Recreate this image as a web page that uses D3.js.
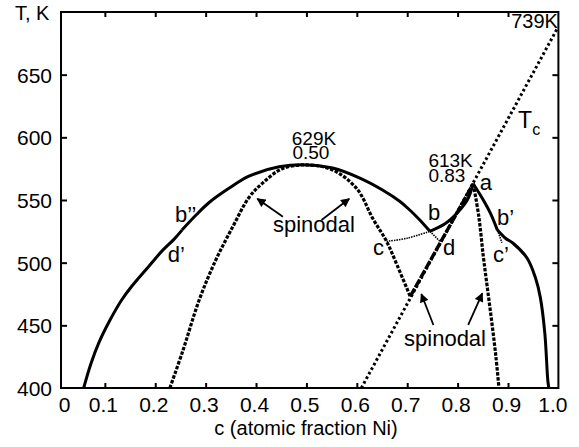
<!DOCTYPE html>
<html>
<head>
<meta charset="utf-8">
<script src="https://cdn.jsdelivr.net/npm/d3@7/dist/d3.min.js"></script>
<style>
  body { margin: 0; background: #fff; }
  text { font-family: Arial, "Liberation Sans", sans-serif; fill: #000; }
</style>
</head>
<body>
<script>
// phase diagram data, c = atomic fraction Ni, T in K (as drawn)
var xTicks = [0.013, 0.1, 0.2, 0.3, 0.4, 0.5, 0.6, 0.7, 0.8, 0.9, 1.0];
var yTicks = [400, 450, 500, 550, 600, 650];

var binodalLeftLow = [[0.058,400],[0.072,419],[0.088,436],[0.11,454],[0.133,470],[0.153,481],[0.187,497],[0.215,510],[0.238,519],[0.253,526]];
var binodalLeftHigh = [[0.253,526],[0.281,538],[0.307,548],[0.347,559.5],[0.386,569],[0.446,576.5],[0.5,578],[0.552,575.5],[0.606,567.5],[0.651,558],[0.685,549],[0.705,542],[0.725,534],[0.745,525]];
var binodalMeta = [[0.745,525],[0.765,517]];
var cCurve = [[0.659,517],[0.70,519.5],[0.745,525]];
var bToA = [[0.745,525],[0.775,531],[0.80,540],[0.82,550.5],[0.831,563]];
var binodalRightHigh = [[0.831,563],[0.851,550],[0.865,539.5],[0.879,526]];
var binodalRightLow = [[0.879,526],[0.895,519.5],[0.910,515.5],[0.938,503.5],[0.954,488.5],[0.964,472.5],[0.973,444],[0.979,406],[0.981,400]];
var spinodalLeft = [[0.229,400],[0.255,430],[0.287,470],[0.32,502],[0.353,528],[0.386,552],[0.413,563.5],[0.452,575],[0.5,578],[0.552,574],[0.60,559],[0.632,535],[0.659,517],[0.681,497],[0.706,473]];
var spinodalV = [[0.706,473],[0.831,563]];
var spinodalRight = [[0.831,563],[0.842,537],[0.851,505],[0.859,480],[0.868,452],[0.876,425],[0.882,400]];
var tcLine = [[0.609,400],[0.998,687]];
var dPrime = [[0.253,526],[0.232,516]];
var cPrime = [[0.879,526],[0.888,516]];

var arrows = [
  [[0.4534,536.7],[0.4024,551]],
  [[0.530,534],[0.585,551]],
  [[0.752,450.3],[0.728,475]],
  [[0.821,450.3],[0.849,475.5]]
];

var labels = [
  {t: "629K", c: 0.515, T: 594, a: "middle", s: 19},
  {t: "0.50", c: 0.509, T: 582.5, a: "middle", s: 19},
  {t: "613K", c: 0.742, T: 576.3, a: "start", s: 19},
  {t: "0.83", c: 0.742, T: 564.4, a: "start", s: 19},
  {t: "739K", c: 0.999, T: 687.2, a: "end", s: 20},
  {t: "a", c: 0.844, T: 558, a: "start", s: 22},
  {t: "b", c: 0.741, T: 534, a: "start", s: 22},
  {t: "d", c: 0.771, T: 506, a: "start", s: 22},
  {t: "c", c: 0.632, T: 506, a: "start", s: 22},
  {t: "b\u2019", c: 0.878, T: 530, a: "start", s: 22},
  {t: "c\u2019", c: 0.870, T: 500.5, a: "start", s: 22},
  {t: "b\u2019\u2019", c: 0.239, T: 532.5, a: "start", s: 22},
  {t: "d\u2019", c: 0.225, T: 500.5, a: "start", s: 22},
  {t: "spinodal", c: 0.515, T: 524.7, a: "middle", s: 22},
  {t: "spinodal", c: 0.775, T: 433.5, a: "middle", s: 22}
];

var width = 579, height = 447;
var svg = d3.select('body').append('svg').attr('width', width).attr('height', height);

var x = d3.scaleLinear().domain([0.013, 1.0]).range([61, 558.4]);
var y = d3.scaleLinear().domain([400, 700]).range([388, 12]);

var line = d3.line()
    .x(function (d) { return x(d[0]); })
    .y(function (d) { return y(d[1]); })
    .curve(d3.curveCatmullRom);

var defs = svg.append('defs');
defs.append('marker')
    .attr('id', 'head')
    .attr('viewBox', '0 0 10 10')
    .attr('refX', 9).attr('refY', 5)
    .attr('markerWidth', 5.5).attr('markerHeight', 5)
    .attr('markerUnits', 'strokeWidth')
    .attr('orient', 'auto')
    .append('path').attr('d', 'M0,0 L10,5 L0,10 Z').attr('fill', '#000');

// frame
svg.append('rect')
    .attr('x', x(0.013)).attr('y', y(700))
    .attr('width', x(1.0) - x(0.013)).attr('height', y(400) - y(700))
    .attr('fill', 'none').attr('stroke', '#000').attr('stroke-width', 2);

// axes
var bottom = svg.append('g').attr('transform', 'translate(0,' + y(400) + ')')
    .call(d3.axisBottom(x).tickValues(xTicks).tickSize(-5).tickPadding(9)
        .tickFormat(function (d) { return d < 0.05 ? "0" : d.toFixed(1); }));
bottom.selectAll('.tick text').attr('font-size', 21)
    .attr('dx', function (d, i) { return i == 0 ? 3 : (d == 1.0 ? -6 : -2); });

var top = svg.append('g').attr('transform', 'translate(0,' + y(700) + ')')
    .call(d3.axisTop(x).tickValues(xTicks.slice(1, 10)).tickSize(-5).tickFormat(""));

var left = svg.append('g').attr('transform', 'translate(' + x(0.013) + ',0)')
    .call(d3.axisLeft(y).tickValues(yTicks).tickSize(-6).tickPadding(9));
left.selectAll('.tick text').attr('font-size', 21).attr('dy', '0.36em');

var right = svg.append('g').attr('transform', 'translate(' + x(1.0) + ',0)')
    .call(d3.axisRight(y).tickValues(yTicks.slice(1)).tickSize(-6).tickFormat(""));

svg.selectAll('.domain').remove();
svg.selectAll('.tick line').attr('stroke', '#000').attr('stroke-width', 2);
bottom.selectAll('.tick').filter(function (d, i) { return i == 0 || d == 1.0; }).select('line').remove();
left.selectAll('.tick').filter(function (d) { return d == 400; }).select('line').remove();

// Tc line
svg.append('path').datum(tcLine).attr('d', line)
    .attr('fill', 'none').attr('stroke', '#000').attr('stroke-width', 3)
    .attr('stroke-dasharray', '2.6,2.6');

// spinodals
[spinodalLeft, spinodalRight].forEach(function (s) {
    svg.append('path').datum(s).attr('d', line)
        .attr('fill', 'none').attr('stroke', '#000').attr('stroke-width', 3.2)
        .attr('stroke-dasharray', '3.5,1.5');
});
svg.append('path').datum(spinodalV).attr('d', line)
    .attr('fill', 'none').attr('stroke', '#000').attr('stroke-width', 3.4)
    .attr('stroke-dasharray', '9,1.5');

// binodal solid
[binodalLeftLow, binodalLeftHigh, bToA, binodalRightHigh, binodalRightLow].forEach(function (s) {
    svg.append('path').datum(s).attr('d', line)
        .attr('fill', 'none').attr('stroke', '#000').attr('stroke-width', 3)
        .attr('stroke-linejoin', 'round');
});

// thin metastable bits
[binodalMeta, cCurve, dPrime, cPrime].forEach(function (s) {
    svg.append('path').datum(s).attr('d', line)
        .attr('fill', 'none').attr('stroke', '#000').attr('stroke-width', 1.6)
        .attr('stroke-dasharray', '1.5,1');
});

// arrows
arrows.forEach(function (a) {
    svg.append('line')
        .attr('x1', x(a[0][0])).attr('y1', y(a[0][1]))
        .attr('x2', x(a[1][0])).attr('y2', y(a[1][1]))
        .attr('stroke', '#000').attr('stroke-width', 1.8)
        .attr('marker-end', 'url(#head)');
});

// labels
labels.forEach(function (l) {
    svg.append('text')
        .attr('x', x(l.c)).attr('y', y(l.T))
        .attr('text-anchor', l.a).attr('font-size', l.s)
        .text(l.t);
});

// T_c
var tc = svg.append('text').attr('x', x(0.92)).attr('y', y(607.4)).attr('font-size', 23);
tc.append('tspan').text('T');
tc.append('tspan').attr('dy', 7).attr('font-size', 16).text('c');

svg.append('text').attr('x', 15).attr('y', 20).attr('font-size', 20).text('T, K');

svg.append('text')
    .attr('x', 306).attr('y', 435)
    .attr('text-anchor', 'middle').attr('font-size', 20)
    .text('c (atomic fraction Ni)');
</script>
</body>
</html>
